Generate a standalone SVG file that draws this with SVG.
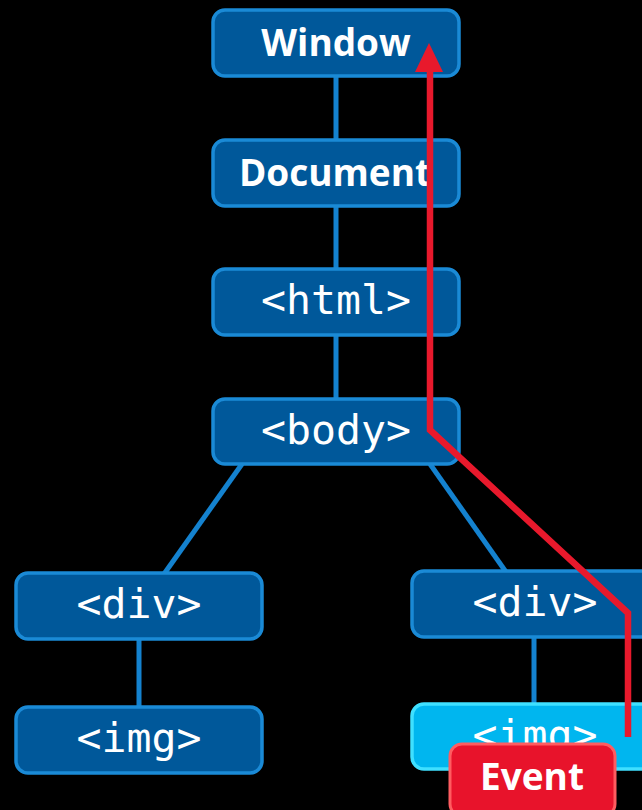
<svg xmlns="http://www.w3.org/2000/svg" width="642" height="810" viewBox="0 0 642 810">
  <style>
    .node rect { fill: #00589a; stroke: #1a8ad6; stroke-width: 3.5; }
    .hot rect { fill: #00b6ef; stroke: #3fe0ff; stroke-width: 3.5; }
    .bold { font-family: "Open Sans", "Liberation Sans", sans-serif; font-weight: bold; font-size: 37px; fill: #ffffff; text-anchor: middle; }
    .mono { font-family: "DejaVu Sans Mono", "Liberation Mono", monospace; font-size: 41.5px; fill: #ffffff; text-anchor: middle; }
    .link { stroke: #1482cf; stroke-width: 5; fill: none; }
    .path { stroke: #e8192c; stroke-width: 6.5; fill: none; stroke-linejoin: miter; }
  </style>
  <rect x="0" y="0" width="642" height="810" fill="#000000"/>

  <!-- tree edges -->
  <g id="connectors">
    <line class="link" x1="336" y1="76" x2="336" y2="140"/>
    <line class="link" x1="336" y1="206" x2="336" y2="270"/>
    <line class="link" x1="336" y1="336" x2="336" y2="400"/>
    <line class="link" x1="242" y1="464" x2="164" y2="574"/>
    <line class="link" x1="430" y1="464" x2="506" y2="572"/>
    <line class="link" x1="139" y1="638" x2="139" y2="708"/>
    <line class="link" x1="534" y1="636" x2="534" y2="706"/>
  </g>

  <g id="window" class="node">
    <rect x="213" y="10" width="246" height="66" rx="12"/>
    <text class="bold" x="336" y="56">Window</text>
  </g>
  <g id="document" class="node">
    <rect x="213" y="140" width="246" height="66" rx="12"/>
    <text class="bold" x="335" y="186">Document</text>
  </g>
  <g id="html" class="node">
    <rect x="213" y="269" width="246" height="66" rx="12"/>
    <text class="mono" x="336" y="314">&lt;html&gt;</text>
  </g>
  <g id="body" class="node">
    <rect x="213" y="399" width="246" height="65" rx="12"/>
    <text class="mono" x="336" y="444">&lt;body&gt;</text>
  </g>
  <g id="div-left" class="node">
    <rect x="16" y="573" width="246" height="66" rx="12"/>
    <text class="mono" x="139" y="618">&lt;div&gt;</text>
  </g>
  <g id="img-left" class="node">
    <rect x="16" y="707" width="246" height="66" rx="12"/>
    <text class="mono" x="139" y="752">&lt;img&gt;</text>
  </g>
  <g id="div-right" class="node">
    <rect x="412" y="571" width="246" height="66" rx="12"/>
    <text class="mono" x="535" y="616">&lt;div&gt;</text>
  </g>
  <g id="img-right" class="hot">
    <rect x="412" y="704" width="246" height="65" rx="12"/>
    <text class="mono" x="535" y="749">&lt;img&gt;</text>
  </g>

  <!-- event propagation path -->
  <g id="propagation">
    <polyline class="path" points="628,737 628,613 430,430 430,68"/>
    <polygon points="429,43 415,72 443,72" fill="#e8192c"/>
  </g>

  <g id="event">
    <rect x="450" y="744" width="165" height="72" rx="12" fill="#e8132b" stroke="#ff5c60" stroke-width="3"/>
    <text class="bold" x="532" y="790">Event</text>
  </g>
</svg>
